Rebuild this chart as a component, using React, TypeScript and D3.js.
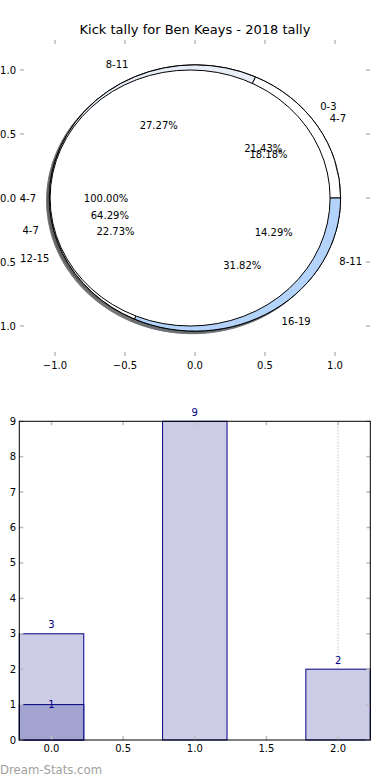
import React from 'react';
import * as d3 from 'd3';

// ---------- data ----------
const chartTitle = 'Kick tally for Ben Keays - 2018 tally';
const watermark = 'Dream-Stats.com';

const pieALabels = ['4-7'];
const pieACounts = [1];
const pieBLabels = ['0-3', '4-7', '8-11'];
const pieBCounts = [3, 9, 2];
const pieCLabels = ['4-7', '8-11', '12-15', '16-19'];
const pieCCounts = [4, 6, 5, 7];
const pieTicks = [-1, -0.5, 0, 0.5, 1];

const barPositions = [0, 1, 2];
const barSeries1 = [3, 9, 2];
const barSeries2 = [1, 0, 0];
const barXTicks = [0, 0.5, 1, 1.5, 2];
const barYTicks = [0, 1, 2, 3, 4, 5, 6, 7, 8, 9];

// ---------- styles ----------
const FONT = 'DejaVu Sans, Verdana, sans-serif';
const pieStyles = [
  // drawn in this order: B, C, A (A on top)
  { key: 'B', counts: pieBCounts, labels: pieBLabels, colors: ['#ffffff', '#e8eef8', '#b4d3fa'], radius: 1.04, explode: 0 },
  { key: 'C', counts: pieCCounts, labels: pieCLabels, colors: ['#ffffff', '#e8eef8', '#ffffff', '#b4d3fa'], radius: 1.04, explode: 0 },
  { key: 'A', counts: pieACounts, labels: pieALabels, colors: ['#ffffff'], radius: 1.0, explode: 0.035 },
];
const TICK_GRAY = '#bdbdbd';
const NAVY = '#000080';

function shadowColor(c: string) {
  const rgb = d3.rgb(c);
  return d3.rgb(rgb.r * 0.3, rgb.g * 0.3, rgb.b * 0.3).formatHex();
}

const fmtTick = (v: number) => d3.format('.1f')(v).replace('-', '\u2212');

export default function App() {
  // pie axes
  const px = d3.scaleLinear().domain([-1, 1]).range([55, 335]);
  const py = d3.scaleLinear().domain([-1, 1]).range([326, 70]);
  const pieBox = { left: 20, right: 370, top: 40, bottom: 356 };
  const kx = px(1) - px(0);
  const ky = py(0) - py(1);

  const arcGen = d3.arc<any>();
  const pct = d3.format('.2f');

  const pies = pieStyles.map((p) => {
    const total = d3.sum(p.counts);
    const arcs = d3
      .pie<number>()
      .sort(null)
      .startAngle(Math.PI / 2)
      .endAngle(Math.PI / 2 + 2 * Math.PI)(p.counts);
    const wedges = arcs.map((a, i) => {
      const thm = (a.startAngle + a.endAngle) / 2 - Math.PI / 2;
      const cx = p.explode * Math.cos(thm);
      const cy = p.explode * Math.sin(thm);
      const path = arcGen({ innerRadius: 0, outerRadius: p.radius, startAngle: a.startAngle, endAngle: a.endAngle }) as string;
      const lx = cx + 1.1 * p.radius * Math.cos(thm);
      const ly = cy + 1.1 * p.radius * Math.sin(thm);
      const tx = cx + 0.6 * p.radius * Math.cos(thm);
      const ty = cy + 0.6 * p.radius * Math.sin(thm);
      return {
        path,
        cx,
        cy,
        color: p.colors[i % p.colors.length],
        label: p.labels[i],
        pctText: pct((p.counts[i] / total) * 100) + '%',
        lx,
        ly,
        tx,
        ty,
      };
    });
    return { key: p.key, wedges };
  });

  // bar axes
  const bx = d3.scaleLinear().domain([-0.225, 2.225]).range([19.3, 370.3]);
  const by = d3.scaleLinear().domain([0, 9]).range([740, 421.3]);
  const barW = 0.45;

  const pieTransform = `translate(${px(0)},${py(0)}) scale(${kx},${-ky})`;

  return (
    <svg width={390} height={780} style={{ position: 'absolute', left: 0, top: 0, background: '#fff' }} fontFamily={FONT}>
      <rect x={0} y={0} width={390} height={780} fill="#fff" />
      {/* title */}
      <text x={195} y={34} textAnchor="middle" fontSize={13} fill="#000">
        {chartTitle}
      </text>

      {/* pie ticks */}
      {pieTicks.map((t) => (
        <g key={'pxt' + t}>
          <line x1={px(t)} x2={px(t)} y1={pieBox.top} y2={pieBox.top + 4} stroke={TICK_GRAY} strokeWidth={1.5} />
          <line x1={px(t)} x2={px(t)} y1={pieBox.bottom} y2={pieBox.bottom - 4} stroke={TICK_GRAY} strokeWidth={1.5} />
          <text x={px(t)} y={pieBox.bottom + 13} textAnchor="middle" fontSize={10}>
            {fmtTick(t)}
          </text>
          <line x1={pieBox.left} x2={pieBox.left + 4} y1={py(t)} y2={py(t)} stroke={TICK_GRAY} strokeWidth={1.5} />
          <line x1={pieBox.right} x2={pieBox.right - 4} y1={py(t)} y2={py(t)} stroke={TICK_GRAY} strokeWidth={1.5} />
          <text x={16} y={py(t)} dy="0.35em" textAnchor="end" fontSize={10}>
            {fmtTick(t)}
          </text>
        </g>
      ))}

      {/* pie shadows */}
      <g transform={pieTransform}>
        {pies.map((p) =>
          p.wedges.map((w, i) => (
            <path
              key={'sh' + p.key + i}
              d={w.path}
              transform={`translate(${w.cx - 0.02},${w.cy - 0.02})`}
              fill={shadowColor(w.color)}
              stroke={shadowColor(w.color)}
              strokeWidth={1}
              vectorEffect="non-scaling-stroke"
              opacity={0.5}
            />
          ))
        )}
        {pies.map((p) =>
          p.wedges.map((w, i) => (
            <path
              key={'w' + p.key + i}
              d={w.path}
              transform={`translate(${w.cx},${w.cy})`}
              fill={w.color}
              stroke="#000"
              strokeWidth={1}
              vectorEffect="non-scaling-stroke"
            />
          ))
        )}
      </g>

      {/* pie texts */}
      {pies.map((p) =>
        p.wedges.map((w, i) => (
          <g key={'t' + p.key + i} fontSize={10} fill="#000">
            <text x={px(w.lx)} y={py(w.ly)} dy="0.35em" textAnchor={w.lx > 0 ? 'start' : 'end'}>
              {w.label}
            </text>
            <text x={px(w.tx)} y={py(w.ty)} dy="0.35em" textAnchor="middle">
              {w.pctText}
            </text>
          </g>
        ))
      )}

      {/* bar chart */}
      <line x1={bx(2)} x2={bx(2)} y1={by(9)} y2={by(0)} stroke="#aaaaaa" strokeWidth={1} strokeDasharray="1,2" />
      {barPositions.map((x, i) => (
        <rect
          key={'b1' + i}
          x={bx(x - barW / 2)}
          y={by(barSeries1[i])}
          width={bx(x + barW / 2) - bx(x - barW / 2)}
          height={by(0) - by(barSeries1[i])}
          fill="#ccccE6"
          stroke={NAVY}
          strokeWidth={1}
        />
      ))}
      {barPositions.map((x, i) =>
        barSeries2[i] > 0 ? (
          <rect
            key={'b2' + i}
            x={bx(x - barW / 2)}
            y={by(barSeries2[i])}
            width={bx(x + barW / 2) - bx(x - barW / 2)}
            height={by(0) - by(barSeries2[i])}
            fill="#a3a3d1"
            stroke={NAVY}
            strokeWidth={1}
          />
        ) : null
      )}
      {barPositions.map((x, i) => (
        <text key={'l1' + i} x={bx(x)} y={by(barSeries1[i]) - 9} dy="0.35em" textAnchor="middle" fontSize={10} fill={NAVY}>
          {barSeries1[i]}
        </text>
      ))}
      {barPositions.map((x, i) =>
        barSeries2[i] > 0 ? (
          <text key={'l2' + i} x={bx(x)} y={by(barSeries2[i])} dy="0.35em" textAnchor="middle" fontSize={10} fill={NAVY}>
            {barSeries2[i]}
          </text>
        ) : null
      )}
      {/* bar ticks */}
      {barXTicks.map((t) => (
        <g key={'bxt' + t}>
          <line x1={bx(t)} x2={bx(t)} y1={by(9)} y2={by(9) + 4} stroke={TICK_GRAY} strokeWidth={1.5} />
          <line x1={bx(t)} x2={bx(t)} y1={by(0)} y2={by(0) - 4} stroke={TICK_GRAY} strokeWidth={1.5} />
          <text x={bx(t)} y={by(0) + 12} textAnchor="middle" fontSize={10}>
            {d3.format('.1f')(t)}
          </text>
        </g>
      ))}
      {barYTicks.map((t) => (
        <g key={'byt' + t}>
          <line x1={bx(-0.225)} x2={bx(-0.225) + 4} y1={by(t)} y2={by(t)} stroke={TICK_GRAY} strokeWidth={1.5} />
          <line x1={bx(2.225)} x2={bx(2.225) - 4} y1={by(t)} y2={by(t)} stroke={TICK_GRAY} strokeWidth={1.5} />
          <text x={16} y={by(t)} dy="0.35em" textAnchor="end" fontSize={10}>
            {t}
          </text>
        </g>
      ))}
      <rect
        x={bx(-0.225)}
        y={by(9)}
        width={bx(2.225) - bx(-0.225)}
        height={by(0) - by(9)}
        fill="none"
        stroke="#000"
        strokeWidth={1}
      />

      <text x={0} y={774} fontSize={11.7} fill="#a0a0a0">
        {watermark}
      </text>
    </svg>
  );
}
